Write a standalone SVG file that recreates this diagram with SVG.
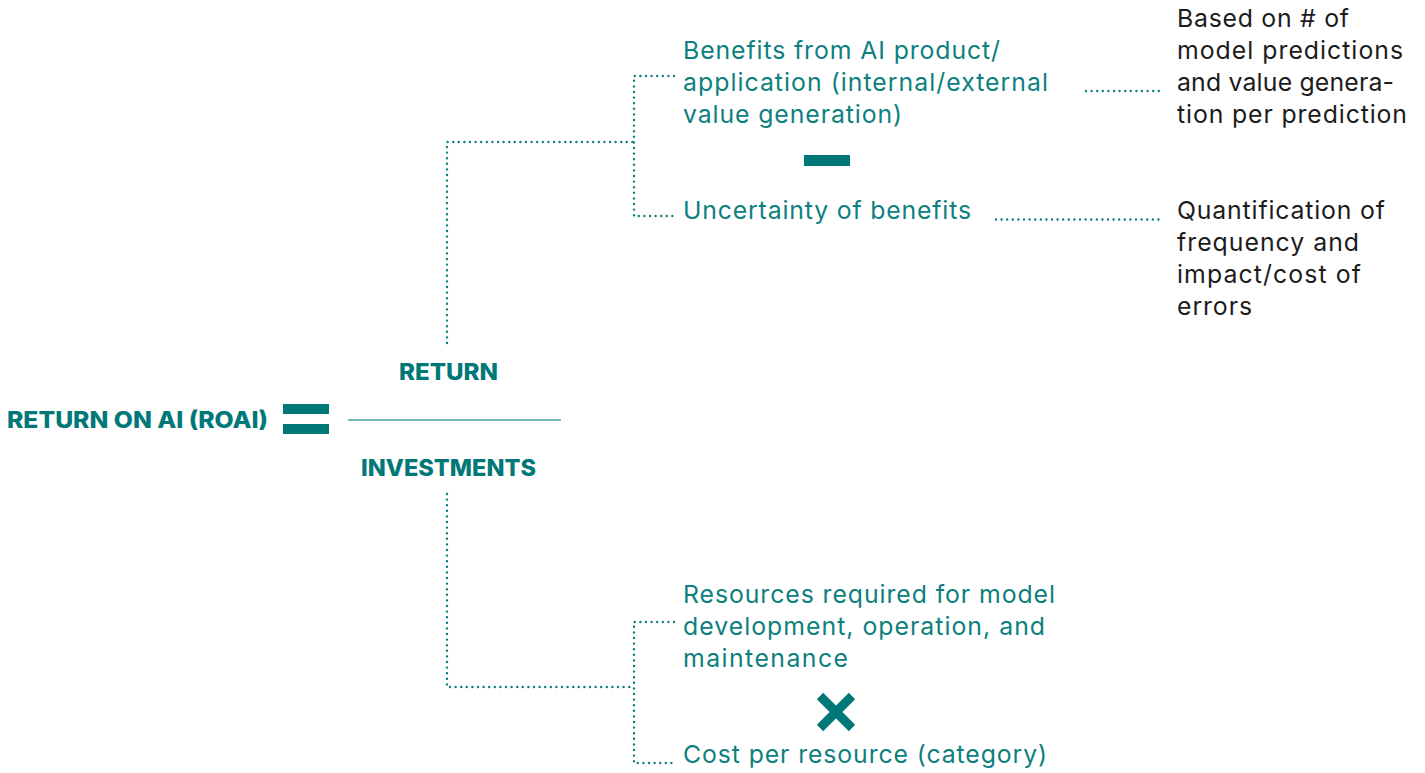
<svg xmlns="http://www.w3.org/2000/svg" width="1425" height="773" viewBox="0 0 1425 773">
<style>
.t{font-family:Inter,"Noto Sans",sans-serif;font-size:24.8px;fill:#0d8080}
.k{font-family:Inter,"Noto Sans",sans-serif;font-size:24.8px;fill:#1c1c1c}
.b{font-family:Inter,"Noto Sans",sans-serif;font-size:22.5px;font-weight:800;fill:#007878}
.dot{fill:none;stroke:#0a7f7f;stroke-width:2.4;stroke-linecap:round;stroke-dasharray:0 5.6}
.sym{fill:#007878}
</style>
<rect width="1425" height="773" fill="#ffffff"/>
<g id="connectors">
<path class="dot" d="M447,343 V142 H634"/>
<path class="dot" d="M674,76 H634 V216 H674"/>
<path class="dot" d="M1086,91 H1163"/>
<path class="dot" d="M996,219.5 H1162"/>
<path class="dot" d="M447,494 V687 H634"/>
<path class="dot" d="M674,622 H634 V763 H674"/>
</g>
<g id="roai">
<text class="b" x="7" y="428" textLength="261" lengthAdjust="spacingAndGlyphs">RETURN ON AI (ROAI)</text>
</g>
<g id="equals">
<rect class="sym" x="283" y="404" width="46" height="10"/>
<rect class="sym" x="283" y="424" width="46" height="10"/>
</g>
<g id="fraction">
<text class="b" x="448.5" y="380" text-anchor="middle" textLength="99" lengthAdjust="spacingAndGlyphs">RETURN</text>
<line x1="348" y1="420" x2="561" y2="420" stroke="#4fa3a3" stroke-width="1.6"/>
<text class="b" x="448.5" y="476" text-anchor="middle" textLength="175" lengthAdjust="spacingAndGlyphs">INVESTMENTS</text>
</g>
<g id="benefits">
<text class="t" x="683" y="59" textLength="317">Benefits from AI product/</text>
<text class="t" x="683" y="91" textLength="365">application (internal/external</text>
<text class="t" x="683" y="123" textLength="219">value generation)</text>
</g>
<g id="minus">
<rect class="sym" x="804" y="155" width="46" height="11"/>
</g>
<g id="uncertainty">
<text class="t" x="683" y="219" textLength="288">Uncertainty of benefits</text>
</g>
<g id="based-on">
<text class="k" x="1177" y="27" textLength="172">Based on # of</text>
<text class="k" x="1177" y="59" textLength="226">model predictions</text>
<text class="k" x="1177" y="91" textLength="217">and value genera-</text>
<text class="k" x="1177" y="123" textLength="230">tion per prediction</text>
</g>
<g id="quantification">
<text class="k" x="1177" y="219" textLength="208">Quantification of</text>
<text class="k" x="1177" y="251" textLength="182">frequency and</text>
<text class="k" x="1177" y="283" textLength="184">impact/cost of</text>
<text class="k" x="1177" y="315" textLength="75">errors</text>
</g>
<g id="resources">
<text class="t" x="683" y="603" textLength="372">Resources required for model</text>
<text class="t" x="683" y="635" textLength="362">development, operation, and</text>
<text class="t" x="683" y="667" textLength="165">maintenance</text>
</g>
<g id="times">
<path d="M820,696 L852,728 M852,696 L820,728" stroke="#007878" stroke-width="9" fill="none"/>
</g>
<g id="cost">
<text class="t" x="683" y="763" textLength="364">Cost per resource (category)</text>
</g>
</svg>
